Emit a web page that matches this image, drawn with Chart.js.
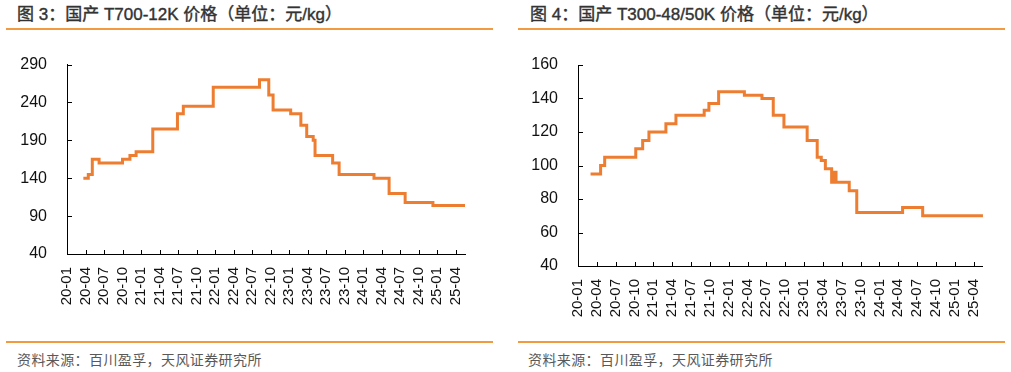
<!DOCTYPE html>
<html>
<head>
<meta charset="utf-8">
<script src="https://cdn.jsdelivr.net/npm/chart.js@4/dist/chart.umd.min.js"></script>
<style>
  body { margin: 0; width: 1011px; height: 372px; background: #fff; position: relative; overflow: hidden; }
  .title { position: absolute; top: 4px; font: 17px 'Liberation Sans', 'Noto Sans CJK SC', sans-serif; color: #333; line-height: 22px; white-space: nowrap; -webkit-text-stroke: 0.4px #333; }
  .rule { position: absolute; height: 2px; background: #F29A3F; }
  .source { position: absolute; top: 350px; font: 14px 'Noto Sans CJK SC', sans-serif; color: #595959; letter-spacing: 0.4px; line-height: 18px; white-space: nowrap; }
  canvas { position: absolute; }
</style>
</head>
<body>
<div class="title" style="left:17px">图 3：国产 T700-12K 价格（单位：元/kg）</div>
<div class="rule" style="left:6px; width:487px; top:28px"></div>
<div class="rule" style="left:6px; width:487px; top:341px"></div>
<div class="source" style="left:17px">资料来源：百川盈孚，天风证券研究所</div>
<canvas id="leftChart" style="left:0; top:35px" width="495" height="305"></canvas>

<div class="title" style="left:530px">图 4：国产 T300-48/50K 价格（单位：元/kg）</div>
<div class="rule" style="left:518px; width:487px; top:28px"></div>
<div class="rule" style="left:518px; width:487px; top:341px"></div>
<div class="source" style="left:528px">资料来源：百川盈孚，天风证券研究所</div>
<canvas id="rightChart" style="left:505px; top:35px" width="500" height="305"></canvas>

<script>
// x values are months since 2020-01 (each point = date the price changes)
const xTickLabels = ['20-01', '20-04', '20-07', '20-10', '21-01', '21-04', '21-07', '21-10',
    '22-01', '22-04', '22-07', '22-10', '23-01', '23-04', '23-07', '23-10',
    '24-01', '24-04', '24-07', '24-10', '25-01', '25-04'];

// T700-12K
const leftMonths = [2.65, 3.45, 4.1, 5.2, 9.0, 10.2, 11.2, 13.9, 17.9, 18.85, 23.7, 31.2, 32.7, 33.4,
    36.25, 37.9, 38.85, 39.9, 40.2, 43.05, 44.1, 49.75, 52.2, 54.8, 59.3, 64.5];
const leftPrices = [140, 145, 165, 160, 165, 170, 175, 205, 225, 235, 260, 270, 250, 230,
    225, 210, 195, 190, 170, 160, 145, 140, 120, 108, 104, 104];
const leftYTicks = [40, 90, 140, 190, 240, 290];

// T300-48/50K
const rightMonths = [2.0, 3.6, 4.25, 9.2, 10.3, 11.3, 14.0, 15.6, 20.1, 20.85, 22.4, 26.5, 29.3, 31.1,
    32.8, 36.5, 38.1, 38.75, 39.4, 40.4, 40.8, 41.1, 43.2, 44.4, 51.7, 54.9, 64.5];
const rightPrices = [95, 100, 105, 110, 115, 120, 125, 130, 133, 137, 144, 142, 140, 130,
    123, 115, 105, 103, 98, 90, 96, 90, 85, 72, 75, 70, 70];
const rightYTicks = [40, 60, 80, 100, 120, 140, 160];

const innerTicks = {
    id: 'innerTicks',
    beforeDatasetsDraw(chart) {
        const ctx = chart.ctx;
        const area = chart.chartArea;
        const xs = chart.scales.x, ys = chart.scales.y;
        ctx.save();
        ctx.strokeStyle = '#000';
        ctx.lineWidth = 1;
        ctx.beginPath();
        xs.ticks.forEach(t => {
            const px = Math.round(xs.getPixelForValue(t.value)) + 0.5;
            ctx.moveTo(px, area.bottom);
            ctx.lineTo(px, area.bottom - 4);
        });
        ys.ticks.forEach(t => {
            const py = Math.round(ys.getPixelForValue(t.value)) + 0.5;
            ctx.moveTo(area.left, py);
            ctx.lineTo(area.left + 5, py);
        });
        ctx.stroke();
        ctx.restore();
    }
};

function makeChart(id, months, prices, yTicks, opts) {
    const points = months.map((m, i) => ({ x: m, y: prices[i] }));
    return new Chart(document.getElementById(id), {
        type: 'line',
        data: {
            datasets: [{
                data: points,
                borderColor: '#ED7D31',
                borderWidth: 3,
                pointRadius: 0,
                stepped: 'before',
                fill: false
            }]
        },
        options: {
            responsive: false,
            animation: false,
            layout: { padding: { left: 0, right: opts.padRight, top: opts.padTop, bottom: 0 } },
            plugins: { legend: { display: false }, tooltip: { enabled: false } },
            scales: {
                x: {
                    type: 'linear',
                    min: 0,
                    max: 64.5,
                    grid: { display: false, drawTicks: false },
                    border: { color: '#000', width: 1 },
                    afterFit: s => { s.height = opts.xHeight; },
                    ticks: {
                        stepSize: 3,
                        includeBounds: false,
                        autoSkip: false,
                        minRotation: 90,
                        maxRotation: 90,
                        padding: 13,
                        color: '#111',
                        font: { family: "'Liberation Sans', Arial, sans-serif", size: 15 },
                        callback: (v, i) => xTickLabels[i]
                    }
                },
                y: {
                    min: yTicks[0],
                    max: yTicks[yTicks.length - 1],
                    grid: { display: false, drawTicks: false },
                    border: { color: '#000', width: 1 },
                    afterFit: s => { s.width = opts.yWidth; },
                    ticks: {
                        stepSize: yTicks[1] - yTicks[0],
                        padding: 20,
                        color: '#111',
                        font: { family: "'Liberation Sans', Arial, sans-serif", size: 16 }
                    }
                }
            }
        },
        plugins: [innerTicks]
    });
}

makeChart('leftChart', leftMonths, leftPrices, leftYTicks,
    { padRight: 30, padTop: 29, xHeight: 86, yWidth: 67 });
makeChart('rightChart', rightMonths, rightPrices, rightYTicks,
    { padRight: 20, padTop: 30, xHeight: 74, yWidth: 73 });
</script>
</body>
</html>
